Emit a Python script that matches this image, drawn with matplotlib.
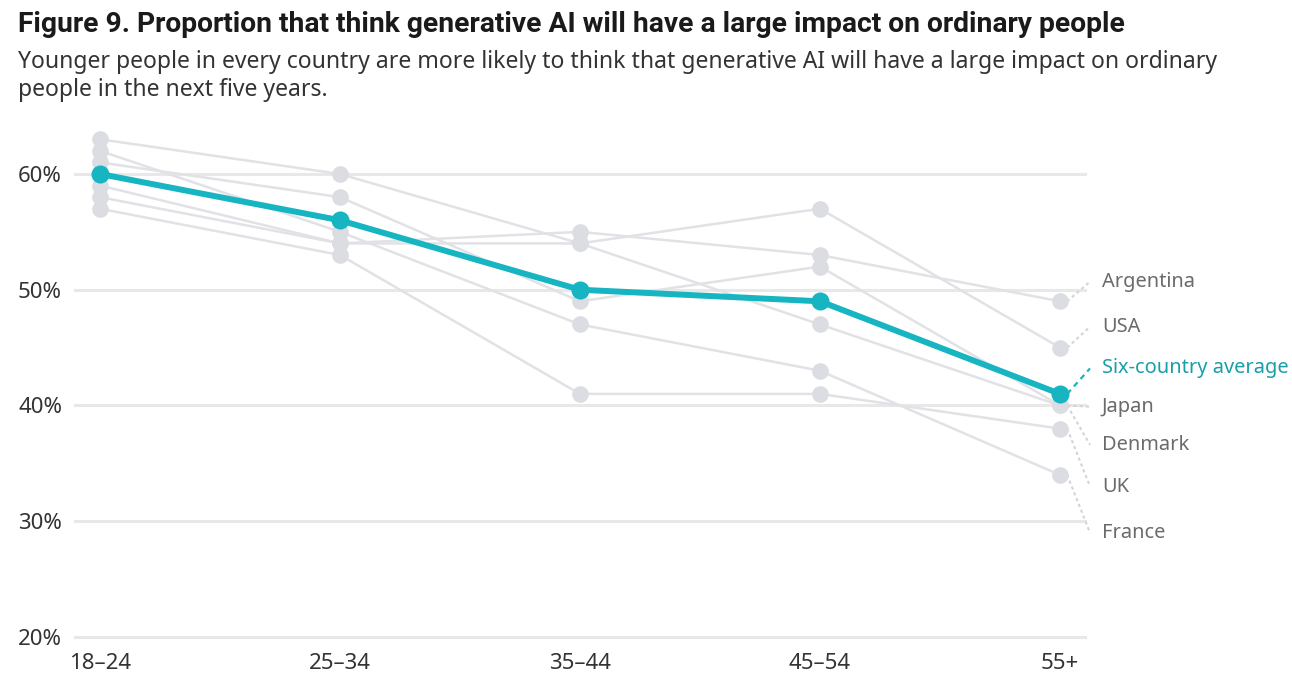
"""Figure 9 - share who think generative AI will have a large impact on ordinary
people, by age group, six countries plus the six-country average."""
import matplotlib
matplotlib.use("Agg")
import matplotlib.pyplot as plt

plt.rcParams["font.family"] = ["Noto Sans", "DejaVu Sans"]

ages = ["18–24", "25–34", "35–44", "45–54", "55+"]
argentina = [58, 54, 55, 53, 49]
usa = [63, 60, 54, 57, 45]
japan = [61, 58, 49, 52, 40]
denmark = [59, 54, 54, 47, 40]
uk = [57, 53, 41, 41, 38]
france = [62, 55, 47, 43, 34]
average = [60, 56, 50, 49, 41]
countries = [("Argentina", argentina), ("USA", usa), ("Japan", japan),
             ("Denmark", denmark), ("UK", uk), ("France", france)]
yticks = [20, 30, 40, 50, 60]

# where the end labels sit (layout only)
label_y = {"Argentina": 50.7, "USA": 46.8, "Japan": 39.9, "Denmark": 36.6,
           "UK": 33.0, "France": 29.0}
avg_label_y = 43.2

GREY_LINE = "#e1e2e6"
GREY_DOT = "#dcdde2"
TEAL = "#17b4c2"
TEAL_TXT = "#1a9eaa"
GRID = "#e8e8e8"

fig = plt.figure(figsize=(12.92, 6.91), dpi=100)
ax = fig.add_axes([0.05805, 0.0698, 0.7817, 0.7538])
x = list(range(len(ages)))

for t in yticks:
    ax.axhline(t, color=GRID, lw=2.2, zorder=0, clip_on=False)

for name, vals in countries:
    ax.plot(x, vals, color=GREY_LINE, lw=1.8, zorder=2)
for name, vals in countries:
    ax.plot(x, vals, "o", color=GREY_DOT, ms=12, mec="none", zorder=3)
    ax.plot([4.03, 4.125], [vals[-1], label_y[name]], color="#d3d4d8", lw=1.5,
            ls=(0, (1.5, 1.5)), zorder=1, clip_on=False)
    ax.text(4.175, label_y[name], name, color="#6b6b6b", fontsize=14.4,
            va="center", ha="left")

ax.plot(x, average, color=TEAL, lw=4.3, zorder=4,
        marker="o", ms=13, mec="none", solid_capstyle="round")
ax.plot([4.03, 4.125], [average[-1], avg_label_y], color=TEAL, lw=1.6,
        ls=(0, (2.5, 2)), zorder=4, clip_on=False)
ax.text(4.175, avg_label_y, "Six-country average", color=TEAL_TXT,
        fontsize=14.4, va="center", ha="left")

ax.set_xlim(-0.104, 4.104)
ax.set_ylim(19.5, 64.5)
ax.set_xticks(x)
ax.set_xticklabels(ages)
ax.set_yticks(yticks)
ax.set_yticklabels([f"{t}%" for t in yticks])
ax.tick_params(axis="both", length=0, labelsize=16, labelcolor="#333333")
ax.tick_params(axis="x", pad=7.5)
ax.tick_params(axis="y", pad=41)
for lab in ax.get_yticklabels():
    lab.set_horizontalalignment("left")
    lab.set_verticalalignment("center_baseline")
for s in ax.spines.values():
    s.set_visible(False)

fig.text(18 / 1292, 1 - 25 / 691, "Figure 9. Proportion that think generative AI "
         "will have a large impact on ordinary people", fontsize=20.3,
         fontweight="bold", family=["Roboto", "DejaVu Sans"], color="#1a1a1a",
         va="center", ha="left")
fig.text(18 / 1292, 1 - 50 / 691, "Younger people in every country are more likely "
         "to think that generative AI will have a large impact on ordinary\n"
         "people in the next five years.", fontsize=16.55, color="#333333",
         va="top", ha="left", linespacing=1.2)

fig.savefig("out.png", dpi=100)
